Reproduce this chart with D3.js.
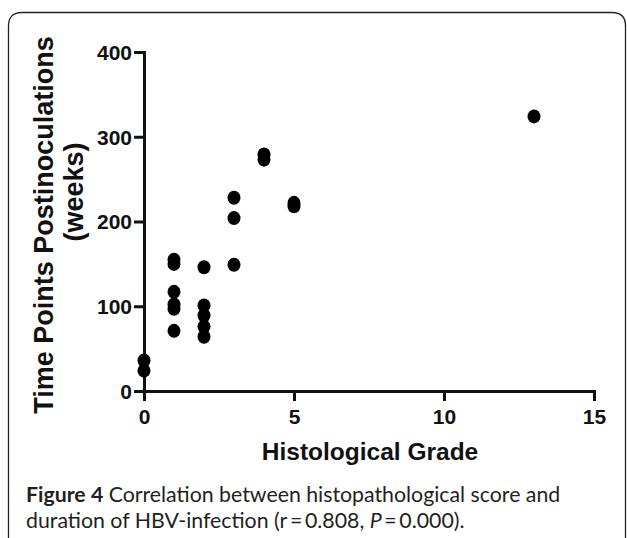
<!DOCTYPE html>
<html>
<head>
<meta charset="utf-8">
<script src="https://cdn.jsdelivr.net/npm/d3@7"></script>
<style>
  body { margin: 0; background: #fff; }
  svg { display: block; }
  .tick text { font-family: "Liberation Sans", Arial, sans-serif; font-weight: bold; }
</style>
</head>
<body>
<div id="chart"></div>
<script>
// histological grade vs weeks post inoculation
var grades = [0, 0, 1, 1, 1, 1, 1, 1, 2, 2, 2, 2, 2, 3, 3, 3, 4, 4, 5, 5, 13];
var weeks = [36, 24, 155, 150, 117, 102, 97, 71, 146, 101, 89, 76, 64, 228, 204, 149, 279, 273, 222, 218, 324];
var xTicks = [0, 5, 10, 15];
var yTicks = [0, 100, 200, 300, 400];

var W = 627, H = 538;
var margin = {top: 52, left: 144, right: 33, bottom: 147};

var svg = d3.select("#chart").append("svg")
    .attr("width", W)
    .attr("height", H);

// rounded frame, open at the bottom
svg.append("path")
    .attr("d", "M8.5,538 L8.5,26 Q8.5,12.5 22,12.5 L612,12.5 Q625.5,12.5 625.5,26 L625.5,538")
    .attr("fill", "none")
    .attr("stroke", "#222")
    .attr("stroke-width", 1.3);

var x = d3.scaleLinear().domain([0, 15]).range([margin.left, W - margin.right]);
var y = d3.scaleLinear().domain([0, 400]).range([H - margin.bottom, margin.top]);

var xAxis = svg.append("g")
    .attr("transform", "translate(0," + y(0) + ")")
    .call(d3.axisBottom(x).tickValues(xTicks).tickSize(10).tickPadding(8));

var yAxis = svg.append("g")
    .attr("transform", "translate(" + x(0) + ",0)")
    .call(d3.axisLeft(y).tickValues(yTicks).tickSize(10).tickPadding(2));

[xAxis, yAxis].forEach(function(g) {
    g.select(".domain").attr("stroke", "#111").attr("stroke-width", 3);
    g.selectAll(".tick line").attr("stroke", "#111").attr("stroke-width", 3);
    g.selectAll(".tick text").attr("fill", "#111").style("font-size", "21px");
});
yAxis.selectAll(".tick text").attr("dy", "0.35em");

svg.append("g").selectAll("ellipse")
    .data(grades)
    .enter().append("ellipse")
    .attr("cx", function(d) { return x(d); })
    .attr("cy", function(d, i) { return y(weeks[i]); })
    .attr("rx", 6.5)
    .attr("ry", 7)
    .attr("fill", "#000");

svg.append("text")
    .attr("x", 370).attr("y", 460)
    .attr("text-anchor", "middle")
    .style("font-family", "'Liberation Sans', Arial, sans-serif")
    .style("font-weight", "bold")
    .style("font-size", "24.5px")
    .attr("fill", "#111")
    .text("Histological Grade");

svg.append("text")
    .attr("transform", "translate(53,225) rotate(-90)")
    .attr("text-anchor", "middle")
    .style("font-family", "'Liberation Sans', Arial, sans-serif")
    .style("font-weight", "bold")
    .style("font-size", "27px")
    .attr("fill", "#111")
    .text("Time Points Postinoculations");

svg.append("text")
    .attr("transform", "translate(83,192) rotate(-90)")
    .attr("text-anchor", "middle")
    .style("font-family", "'Liberation Sans', Arial, sans-serif")
    .style("font-weight", "bold")
    .style("font-size", "27px")
    .attr("fill", "#111")
    .text("(weeks)");

var cap = svg.append("g")
    .style("font-family", "Lato, 'Open Sans', sans-serif")
    .style("font-size", "21.3px")
    .attr("fill", "#231f20");

var l1 = cap.append("text").attr("x", 26).attr("y", 502);
l1.append("tspan").style("font-weight", "bold").text("Figure 4");
l1.append("tspan").text(" Correlation between histopathological score and");

var l2 = cap.append("text").attr("x", 26).attr("y", 528);
l2.append("tspan").text("duration of HBV-infection (r\u2009=\u20090.808, ");
l2.append("tspan").style("font-style", "italic").text("P");
l2.append("tspan").text("\u2009=\u20090.000).");
</script>
</body>
</html>
